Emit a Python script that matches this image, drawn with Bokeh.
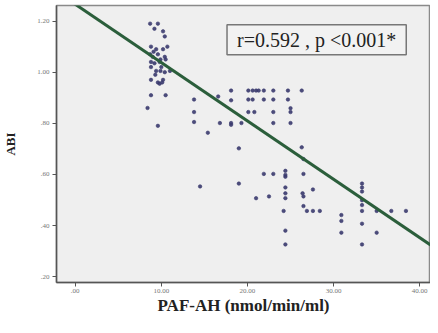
from bokeh.plotting import figure
from bokeh.models import Range1d, FixedTicker, Label
from bokeh.embed import file_html
from bokeh.resources import INLINE

# PAF-AH (nmol/min/ml) vs ABI
paf = [8.7, 9.6, 9.2, 10.2, 10.4, 8.8, 9.4, 10.2, 10.7, 8.7, 9.0, 9.6, 9.9, 10.4,
       8.8, 9.2, 9.8, 10.5, 8.8, 9.4, 9.9, 10.4, 11.0, 8.8, 9.6, 10.2, 8.8, 10.5,
       8.4, 9.6, 9.1, 10.0, 9.3, 9.8, 10.1,
       14.5, 13.8, 13.8, 13.8, 15.4, 16.6, 16.8, 18.1, 18.1, 18.1, 18.1, 19.3,
       19.0, 19.0, 20.1, 20.6, 21.0, 21.3, 21.9, 20.1, 20.6, 21.9, 20.1, 20.8,
       23.0, 23.0, 23.0, 23.0, 24.7, 24.7, 25.0, 25.0, 25.0, 26.3, 26.3, 26.5,
       21.9, 23.0, 24.4, 24.4, 24.4, 26.5, 24.4, 24.4, 24.4, 21.0, 22.5, 27.6,
       26.4, 26.5, 26.5, 26.9, 27.6, 28.4, 24.2, 24.4, 24.4, 30.9, 30.9, 30.9,
       33.3, 33.3, 33.3, 33.3, 33.3, 33.3, 33.3, 33.3, 35.0, 36.7, 38.4, 35.0]
abi = [1.19, 1.19, 1.17, 1.16, 1.14, 1.10, 1.09, 1.09, 1.10, 1.07, 1.06, 1.07, 1.05, 1.06,
       1.04, 1.035, 1.04, 1.05, 1.02, 1.005, 1.005, 1.00, 1.005, 0.97, 0.96, 0.97, 0.91, 0.91,
       0.86, 0.79, 1.08, 1.02, 0.99, 0.955, 0.96,
       0.553, 0.893, 0.844, 0.805, 0.763, 0.905, 0.801, 0.928, 0.890, 0.801, 0.794, 0.801,
       0.702, 0.564, 0.928, 0.928, 0.928, 0.928, 0.928, 0.893, 0.893, 0.893, 0.844, 0.844,
       0.928, 0.893, 0.844, 0.801, 0.928, 0.893, 0.859, 0.844, 0.801, 0.928, 0.706, 0.660,
       0.602, 0.602, 0.614, 0.598, 0.591, 0.602, 0.549, 0.526, 0.507, 0.507, 0.514, 0.541,
       0.526, 0.514, 0.476, 0.457, 0.457, 0.457, 0.457, 0.380, 0.326, 0.441, 0.418, 0.372,
       0.564, 0.549, 0.533, 0.499, 0.480, 0.457, 0.407, 0.326, 0.457, 0.457, 0.457, 0.372]

# fitted line
intercept = 1.266
slope = -0.02284

x_ticks = [0, 10, 20, 30, 40]
x_tick_labels = [".00", "10.00", "20.00", "30.00", "40.00"]
y_ticks = [0.2, 0.4, 0.6, 0.8, 1.0, 1.2]
y_tick_labels = [".20", ".40", ".60", ".80", "1.00", "1.20"]
stat_text = "r=0.592 , p <0.001*"

x_lo, x_hi = -2.17, 41.25
y_lo, y_hi = 0.177, 1.261

p = figure(width=430, height=317, output_backend="svg", toolbar_location=None,
           x_range=Range1d(x_lo, x_hi), y_range=Range1d(y_lo, y_hi),
           min_border_left=49, min_border_right=0, min_border_top=5, min_border_bottom=26)
p.background_fill_color = "#efefef"
p.border_fill_color = "white"
p.outline_line_color = "#8a8a8a"
p.outline_line_width = 1.5
p.xgrid.visible = False
p.ygrid.visible = False

p.xaxis.ticker = FixedTicker(ticks=x_ticks)
p.xaxis.major_label_overrides = {t: l for t, l in zip(x_ticks, x_tick_labels)}
p.yaxis.ticker = FixedTicker(ticks=y_ticks)
p.yaxis.major_label_overrides = {t: l for t, l in zip(y_ticks, y_tick_labels)}

for ax in (p.xaxis[0], p.yaxis[0]):
    ax.axis_line_color = "#555555"
    ax.axis_line_width = 1.5
    ax.major_tick_line_color = "#555555"
    ax.major_tick_out = 4
    ax.major_tick_in = 0
    ax.minor_tick_line_color = None
    ax.major_label_text_font = "Liberation Serif"
    ax.major_label_text_font_size = "7px"
    ax.major_label_text_color = "#777777"
    ax.major_label_text_line_height = 1.0
    ax.axis_label_text_font = "Liberation Serif"
    ax.axis_label_text_font_style = "bold"
    ax.axis_label_text_color = "#222222"
    ax.axis_label_text_line_height = 1.0

p.xaxis.major_label_standoff = 2
p.yaxis.major_label_standoff = 3
p.xaxis.axis_label = "PAF-AH (nmol/min/ml)"
p.xaxis.axis_label_text_font_size = "17px"
p.xaxis.axis_label_standoff = 0
p.yaxis.axis_label = "ABI"
p.yaxis.axis_label_text_font_size = "13px"
p.yaxis.axis_label_standoff = 16

p.scatter(paf, abi, marker="circle", size=3.5, fill_color="#3a3a6e",
          line_color="#3a3a6e", fill_alpha=0.9, line_alpha=0.6)

xs = [x_lo, x_hi]
ys = [intercept + slope * x for x in xs]
p.line(xs, ys, line_color="#2b5e3b", line_width=3)

lab = Label(x=28.03, y=1.127, text=stat_text, text_align="center", text_baseline="middle",
            text_font="Liberation Serif", text_font_size="20px", text_color="#222222",
            text_line_height=1.0,
            background_fill_color="#f2f2f2", border_line_color="#777777",
            border_line_width=1.5, padding=dict(left=10, right=10, top=4, bottom=4))
p.add_layout(lab)

open("out.html", "w").write(file_html(p, INLINE))
